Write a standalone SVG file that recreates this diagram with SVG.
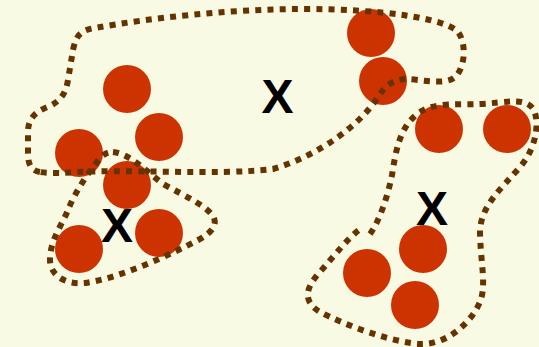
<svg xmlns="http://www.w3.org/2000/svg" width="539" height="347" viewBox="0 0 539 347">
<style>
.bg{fill:#f9fae3}
.dot{fill:#cc3300}
.set{fill:none;stroke:#663300;stroke-width:6;stroke-dasharray:6 6.2;stroke-linejoin:round}
.lbl{font-family:"Liberation Sans",Arial,sans-serif;font-weight:bold;font-size:48px;fill:#000;text-anchor:middle}
</style>
<rect class="bg" x="0" y="0" width="539" height="347"/>
<g id="nodes">
<g id="n1"><circle class="dot" cx="127" cy="89" r="24"/></g>
<g id="n2"><circle class="dot" cx="159" cy="137" r="24"/></g>
<g id="n3"><circle class="dot" cx="79" cy="153" r="24"/></g>
<g id="n4"><circle class="dot" cx="127" cy="185" r="24"/></g>
<g id="n5"><circle class="dot" cx="79" cy="249" r="24"/></g>
<g id="n6"><circle class="dot" cx="159" cy="233" r="24"/></g>
<g id="n7"><circle class="dot" cx="371" cy="33" r="24"/></g>
<g id="n8"><circle class="dot" cx="383" cy="81" r="24"/></g>
<g id="n9"><circle class="dot" cx="439" cy="129" r="24"/></g>
<g id="n10"><circle class="dot" cx="507" cy="129" r="24"/></g>
<g id="n11"><circle class="dot" cx="423" cy="249" r="24"/></g>
<g id="n12"><circle class="dot" cx="367" cy="273" r="24"/></g>
<g id="n13"><circle class="dot" cx="415" cy="305" r="24"/></g>
</g>
<g id="connectors">
<path id="set-top" class="set" d="M40,172 C28,170 28,160 28,150 L28,132 C28,115 40,110 50,106 C62,100 66,92 68,80 L73,50 C76,36 80,30 95,28 C150,18 230,9 303,9 C380,9 445,18 458,32 C467,44 465,68 455,77 C445,86 420,79 405,79 C392,80 385,86 378,97 C360,125 320,155 273,169 C220,176 120,168 63,173 C55,173 45,173 40,172 Z"/>
<path id="set-left" class="set" d="M113,152 C130,154 145,170 163,184 C185,196 205,205 213,216 C218,225 212,232 200,239 C170,255 120,278 85,283 C65,285 50,275 50,260 C50,240 62,225 68,210 C75,192 90,170 100,158 C104,154 108,152 113,152 Z"/>
<path id="set-right" class="set" d="M370,234 C380,220 388,195 392,175 C396,150 400,125 420,112 C435,102 460,105 480,104 C505,103 525,96 534,110 C540,125 535,150 520,167 C500,190 482,205 480,230 C480,260 487,285 480,302 C470,325 445,345 420,344 C390,342 345,325 320,312 C300,300 308,285 320,272 C335,255 348,238 360,229"/>
</g>
<g id="labels">
<text id="x-top" class="lbl" x="277.5" y="113">X</text>
<text id="x-left" class="lbl" x="117" y="242">X</text>
<text id="x-right" class="lbl" x="432" y="225">X</text>
</g>
</svg>
